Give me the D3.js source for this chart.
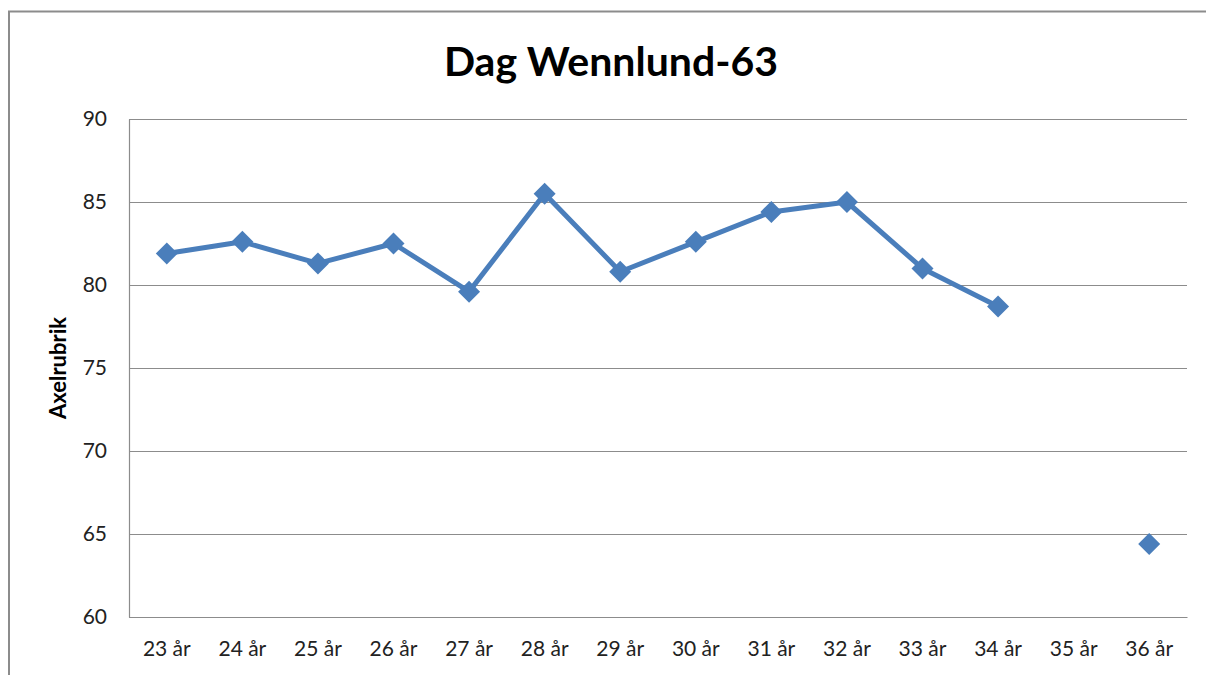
<!DOCTYPE html>
<html>
<head>
<meta charset="utf-8">
<script src="https://cdn.jsdelivr.net/npm/d3@7"></script>
<style>
  body { margin: 0; background: #fff; }
  svg { font-family: Lato, "Open Sans", sans-serif; }
</style>
</head>
<body>
<div id="chart"></div>
<script>
const CATEGORIES = ["23 år","24 år","25 år","26 år","27 år","28 år","29 år","30 år","31 år","32 år","33 år","34 år","35 år","36 år"]
const VALUES = [81.9, 82.6, 81.3, 82.5, 79.6, 85.5, 80.8, 82.6, 84.4, 85.0, 81.0, 78.7, null, 64.4]
const Y_TICKS = [60, 65, 70, 75, 80, 85, 90]
const TITLE = "Dag Wennlund-63"
const Y_LABEL = "Axelrubrik"

const W = 1206, H = 675
const margin = {top: 119, right: 19, bottom: 58, left: 129}
const width = W - margin.left - margin.right
const height = H - margin.top - margin.bottom
const BLUE = "#4a7ebb"

const svg = d3.select("#chart").append("svg")
    .attr("width", W).attr("height", H)

// outer chart border
svg.append("path")
    .attr("d", "M9,675 V11.5 H1206")
    .attr("fill", "none").attr("stroke", "#8c8c8c").attr("stroke-width", 2)

svg.append("text")
    .attr("x", 611).attr("y", 76)
    .attr("text-anchor", "middle")
    .attr("font-size", 41).attr("font-weight", "bold")
    .text(TITLE)

const g = svg.append("g").attr("transform", `translate(${margin.left},${margin.top})`)

const x = d3.scaleBand().domain(CATEGORIES).range([0, width])
const y = d3.scaleLinear().domain([60, 90]).range([height, 0])

// gridlines
g.append("g")
    .call(d3.axisLeft(y).tickValues(Y_TICKS).tickSize(-width).tickFormat(""))
    .call(a => a.select(".domain").remove())
    .selectAll("line").attr("stroke", "#8c8c8c").attr("stroke-width", 1.2)

// y axis
g.append("g")
    .call(d3.axisLeft(y).tickValues(Y_TICKS).tickSize(0).tickPadding(22))
    .call(a => a.select(".domain").attr("stroke", "#8c8c8c").attr("stroke-width", 1.2))
    .selectAll("text").attr("font-size", 21).attr("fill", "#222").attr("font-family", "Lato, sans-serif")

// x axis
g.append("g")
    .attr("transform", `translate(0,${height})`)
    .call(d3.axisBottom(x).tickSize(0).tickPadding(24))
    .call(a => a.select(".domain").attr("stroke", "#8c8c8c").attr("stroke-width", 1.2))
    .selectAll("text").attr("font-size", 21).attr("fill", "#222").attr("font-family", "Lato, sans-serif")

svg.append("text")
    .attr("transform", "translate(66,368) rotate(-90)")
    .attr("text-anchor", "middle")
    .attr("font-size", 22).attr("font-weight", "bold")
    .text(Y_LABEL)

const data = CATEGORIES.map((c, i) => ({c, v: VALUES[i]}))
const cx = d => x(d.c) + x.bandwidth() / 2

const line = d3.line()
    .defined(d => d.v != null)
    .x(cx).y(d => y(d.v))

g.append("path")
    .datum(data)
    .attr("d", line)
    .attr("fill", "none").attr("stroke", BLUE)
    .attr("stroke-width", 5).attr("stroke-linejoin", "round")

g.selectAll(".pt")
    .data(data.filter(d => d.v != null))
    .enter().append("path")
    .attr("class", "pt")
    .attr("d", "M0,-11 L11,0 L0,11 L-11,0 Z")
    .attr("transform", d => `translate(${cx(d)},${y(d.v)})`)
    .attr("fill", BLUE)
</script>
</body>
</html>
